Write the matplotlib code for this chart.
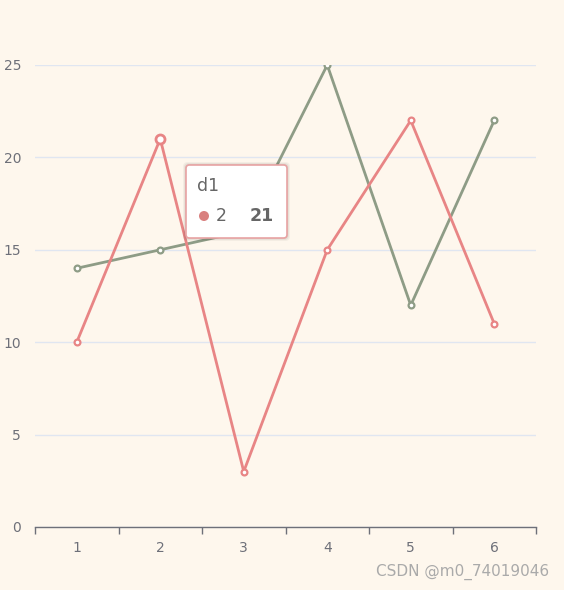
import matplotlib
matplotlib.use("Agg")
import matplotlib.pyplot as plt
from matplotlib.patches import FancyBboxPatch, Ellipse

categories = ["1", "2", "3", "4", "5", "6"]
d1 = [10, 21, 3, 15, 22, 11]
d2 = [14, 15, 16, 25, 12, 22]
y_ticks = [0, 5, 10, 15, 20, 25]

bg = "#fef7ed"
red = "#e88585"
green = "#8e9c86"

W, H = 564, 590
fig = plt.figure(figsize=(W / 100, H / 100), dpi=100, facecolor=bg)
ax = fig.add_axes([35 / W, (H - 527) / H, (536 - 35) / W, (527 - 65) / H])
ax.set_facecolor(bg)

x = list(range(len(categories)))
ax.plot(x, d2, color=green, lw=2, marker="o", ms=4.2, mfc="white", mec=green, mew=1.6, zorder=3)
ax.plot(x, d1, color=red, lw=2, marker="o", ms=4.2, mfc="white", mec=red, mew=1.6, zorder=4)
ax.plot([x[1]], [d1[1]], marker="o", ms=6.5, mfc="white", mec=red, mew=2, zorder=5)

ax.set_xlim(-0.5, len(categories) - 0.5)
ax.set_ylim(0, 25)
ax.set_yticks(y_ticks)
ax.set_yticklabels([str(v) for v in y_ticks])
ax.set_xticks(x)
ax.set_xticklabels(categories)
ax.set_xticks([i - 0.5 for i in range(len(categories) + 1)], minor=True)
ax.tick_params(axis="x", which="major", length=0, pad=10, labelsize=10, labelcolor="#6e7079")
ax.tick_params(axis="x", which="minor", length=5, color="#6e7079", width=1)
ax.tick_params(axis="y", length=0, pad=10, labelsize=10, labelcolor="#6e7079")
for s in ["top", "right", "left"]:
    ax.spines[s].set_visible(False)
ax.spines["bottom"].set_color("#6e7079")
ax.spines["bottom"].set_linewidth(1)
ax.grid(axis="y", color="#e0e6f1", lw=1)
ax.set_axisbelow(True)

# tooltip shadow
for i, a in enumerate([0.04, 0.05, 0.06]):
    off = 3 - i
    sh = FancyBboxPatch(((186 - off) / W, (H - 238 - off) / H), (287 - 186 + 2 * off) / W,
                        (238 - 165 + 2 * off) / H,
                        boxstyle="round,pad=0,rounding_size=0.008",
                        transform=fig.transFigure, facecolor="black", edgecolor="none",
                        alpha=a, zorder=9)
    fig.patches.append(sh)
box = FancyBboxPatch((186 / W, (H - 238) / H), (287 - 186) / W, (238 - 165) / H,
                     boxstyle="round,pad=0,rounding_size=0.006",
                     transform=fig.transFigure, facecolor="white", edgecolor="#e8a3a3",
                     lw=1.2, zorder=10)
fig.patches.append(box)
fig.text(197 / W, (H - 186) / H, "d1", fontsize=12.5, color="#666666", va="center", ha="left", zorder=11)
fig.patches.append(Ellipse((204 / W, (H - 216) / H), 10 / W, 10 / H,
                           transform=fig.transFigure, facecolor="#d9807f",
                           edgecolor="none", zorder=11))
fig.text(216 / W, (H - 216) / H, "2", fontsize=12.5, color="#666666", va="center", ha="left", zorder=11)
fig.text(274 / W, (H - 216) / H, "21", fontsize=12.5, color="#666666", va="center", ha="right",
         fontweight="bold", zorder=11)

fig.text(549 / W, (H - 572) / H, "CSDN @m0_74019046", fontsize=11, color="#aaaaaa",
         ha="right", va="center")

fig.savefig("out.png", dpi=100, facecolor=bg)
